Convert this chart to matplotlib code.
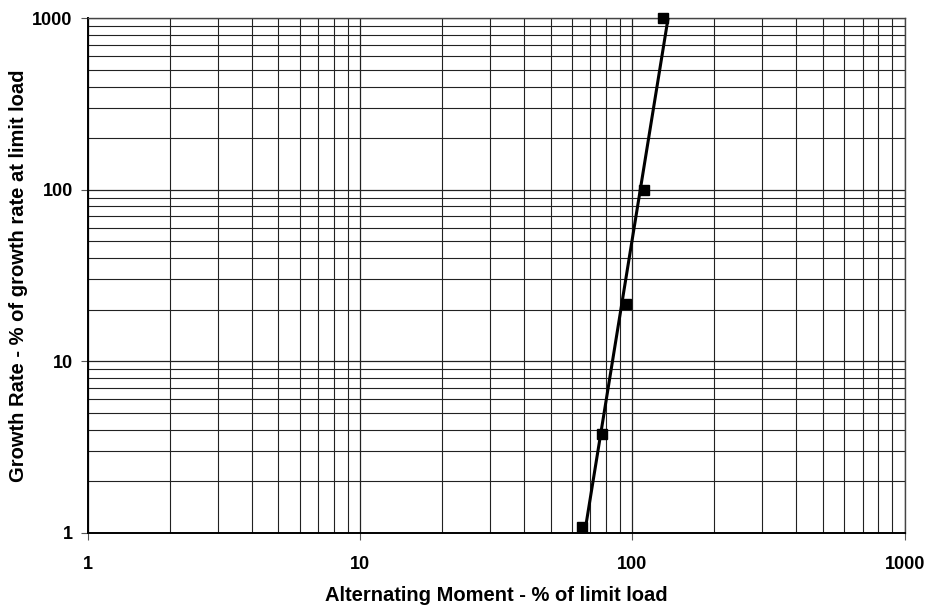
import numpy as np
import matplotlib.pyplot as plt
from matplotlib.ticker import LogLocator, FixedLocator, NullFormatter

plt.rcParams['font.family'] = ['Liberation Sans', 'DejaVu Sans']

# data
moment = [65, 77.6, 94.8, 110, 129]
growth = [1.08, 3.77, 21.7, 100, 1000]
ticks = [1, 10, 100, 1000]
tick_labels = ['1', '10', '100', '1000']

fig = plt.figure(figsize=(9.26, 6.09), dpi=100)
ax = fig.add_axes([0.095, 0.125, 0.882, 0.845])
ax.set_xscale('log')
ax.set_yscale('log')
ax.set_xlim(1, 1000)
ax.set_ylim(1, 1000)

# power-law trendline through the points
b, a = np.polyfit(np.log10(moment), np.log10(growth), 1)
ly = np.array([0.0, 3.0])
lx = (ly - a) / b
ax.plot(10 ** lx, 10 ** ly, color='black', lw=2.2, zorder=3)
ax.plot(moment, growth, 's', color='black', ms=6.5, zorder=4, clip_on=False)

ax.xaxis.set_major_locator(FixedLocator(ticks))
ax.yaxis.set_major_locator(FixedLocator(ticks))
ax.xaxis.set_minor_locator(LogLocator(base=10, subs=np.arange(2, 10), numticks=20))
ax.yaxis.set_minor_locator(LogLocator(base=10, subs=np.arange(2, 10), numticks=20))
ax.xaxis.set_minor_formatter(NullFormatter())
ax.yaxis.set_minor_formatter(NullFormatter())
ax.set_xticklabels(tick_labels, fontweight='bold', fontsize=13)
ax.set_yticklabels(tick_labels, fontweight='bold', fontsize=13)
ax.tick_params(which='major', length=5, width=0.8, color='#555555', pad=12)
ax.tick_params(axis='y', which='major', pad=6)
ax.tick_params(which='minor', length=0)

ax.grid(True, which='major', color='#222222', lw=0.9)
ax.grid(True, which='minor', color='#222222', lw=0.8)
ax.set_axisbelow(True)

for side in ['left', 'bottom']:
    ax.spines[side].set_linewidth(1.4)
for side in ['top', 'right']:
    ax.spines[side].set_color('#444444')
    ax.spines[side].set_linewidth(1.0)

ax.set_xlabel('Alternating Moment - % of limit load', fontweight='bold',
              fontsize=14.5, labelpad=9)
ax.set_ylabel('Growth Rate - % of growth rate at limit load', fontweight='bold',
              fontsize=14.5, labelpad=3)

fig.savefig('out.png', dpi=100)
